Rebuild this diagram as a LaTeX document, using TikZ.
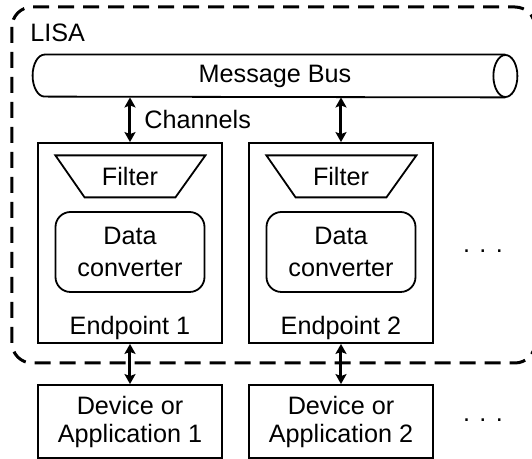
\documentclass[tikz,border=0pt]{standalone}
\usepackage{fontspec}
\setmainfont{Liberation Sans}
\usetikzlibrary{arrows.meta}
\begin{document}
\begin{tikzpicture}[x=0.5pt, y=0.5pt, font=\fontsize{12.6}{16}\selectfont,
    box/.style={draw=lineColour, line width=0.9pt, minimum width=92pt, inner sep=0pt},
    biarrow/.style={draw=lineColour, line width=1.5pt, {Stealth[length=5pt,width=5.5pt,inset=1pt]}-{Stealth[length=5pt,width=5.5pt,inset=1pt]}}]
    % Define colours
    \definecolor{lineColour}{HTML}{000000}

    % Fix picture size
    \useasboundingbox (0,0) rectangle (532,-459);

    % Draw LISA boundary
    \draw[lineColour, line width=1.5pt, dash pattern=on 8pt off 4.5pt, rounded corners=10pt] (12,-7) rectangle (535,-363);
    \node[anchor=base west, inner sep=0pt] (lisa) at (30,-42) {LISA};

    % Draw message bus
    \node[minimum width=230pt, minimum height=21pt, inner sep=0pt] (bus) at (275,-76) {Message Bus};
    \draw[lineColour, line width=0.9pt] (bus.north east) -- (bus.north west)
        arc[start angle=90, end angle=270, x radius=6pt, y radius=10.5pt] -- (bus.south east);
    \draw[lineColour, line width=0.9pt] (bus.east) ellipse[x radius=6pt, y radius=10.5pt];

    % Draw endpoints and devices
    \foreach \i/\x in {1/130, 2/341} {
        \node[box, minimum height=100pt] (ep\i) at (\x,-243) {};
        \node[inner sep=0pt, minimum width=45pt, minimum height=21pt] (filter\i) at (\x,-176) {Filter};
        \draw[lineColour, line width=0.9pt] (filter\i.south west) -- (filter\i.south east) -- ++(30,42) -- ++(-150,0) -- cycle;
        \node[box, rounded corners=7.5pt, minimum width=74.5pt, minimum height=40pt, align=center] (conv\i) at (\x,-252) {Data\\converter};
        \node[anchor=base] (eplabel\i) at (\x,-335) {Endpoint \i};
        \node[box, minimum height=36.5pt, align=center, font=\fontsize{12.6}{14}\selectfont] (dev\i) at (\x,-421.5) {Device or\\Application \i};
        \draw[biarrow] (ep\i.south) -- (dev\i.north);
    }

    % Draw channels
    \draw[biarrow] (bus.south -| ep1.north) -- node[anchor=west, inner sep=0pt, xshift=6.5pt] (channels) {Channels} (ep1.north);
    \draw[biarrow] (bus.south -| ep2.north) -- (ep2.north);

    % Draw more
    \node (dots1) at (483,-251) {. . .};
    \node (dots2) at (483,-420) {. . .};

\end{tikzpicture}
\end{document}
